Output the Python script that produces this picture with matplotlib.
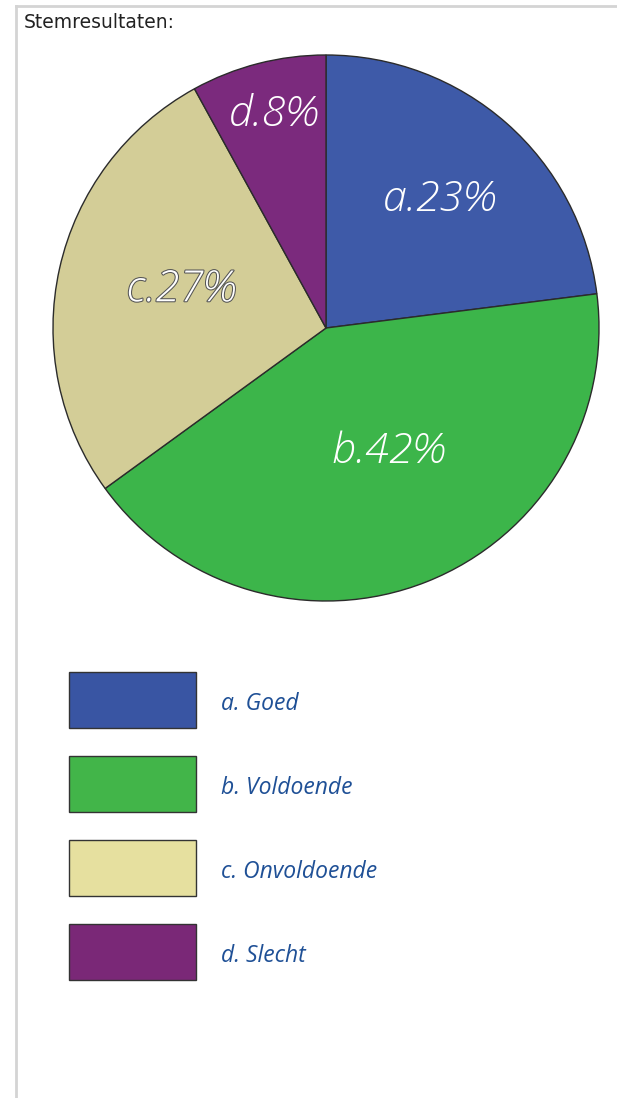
import matplotlib.pyplot as plt
import matplotlib.patheffects as pe
from matplotlib.patches import Rectangle

# data
labels = ['a. Goed', 'b. Voldoende', 'c. Onvoldoende', 'd. Slecht']
slice_text = ['a.23%', 'b.42%', 'c.27%', 'd.8%']
values = [23, 42, 27, 8]
pie_colors = ['#3e5aa8', '#3cb54a', '#d3cd97', '#7b2a7d']
legend_colors = ['#3955a3', '#42b549', '#e6e09f', '#7a2877']

W, H = 617, 1098
fig = plt.figure(figsize=(W / 100, H / 100), dpi=100)
ax = fig.add_axes([0, 0, 1, 1])
ax.set_xlim(0, W)
ax.set_ylim(0, H)
ax.set_aspect('equal')
ax.axis('off')

# frame lines (top and left)
ax.plot([16, W], [H - 6, H - 6], color='#d4d4d4', lw=2)
ax.plot([16, 16], [H - 6, 0], color='#d4d4d4', lw=2)

ax.text(24, H - 23, 'Stemresultaten:', fontsize=13.5, family='DejaVu Sans',
        va='center', ha='left', color='#222222')

# pie
cx, cy, r = 326, H - 328, 273
wedges, _ = ax.pie(values, colors=pie_colors, startangle=90, counterclock=False,
                   center=(cx, cy), radius=r,
                   wedgeprops=dict(edgecolor='#2b2b2b', linewidth=1))
ax.set_xlim(0, W)
ax.set_ylim(0, H)

# slice labels (positions in pixels from top)
label_pos = [(440, 200), (388, 452), (181, 290), (274, 115)]
for i, (txt, (x, y)) in enumerate(zip(slice_text, label_pos)):
    t = ax.text(x, H - y, txt, fontsize=31, color='white', style='italic',
                family='Open Sans', fontweight='light', ha='center', va='center')
    if i == 2:
        t.set_path_effects([pe.withStroke(linewidth=1.5, foreground='#555555')])

# legend
box_top = [672, 756, 840, 924]
for lab, col, top in zip(labels, legend_colors, box_top):
    ax.add_patch(Rectangle((69, H - top - 56), 127, 56, facecolor=col,
                           edgecolor='#333333', linewidth=1))
    ax.text(221, H - top - 32, lab, fontsize=16.5, style='italic', family='Open Sans',
            color='#1f5096', va='center', ha='left')

fig.savefig('out.png', dpi=100)
